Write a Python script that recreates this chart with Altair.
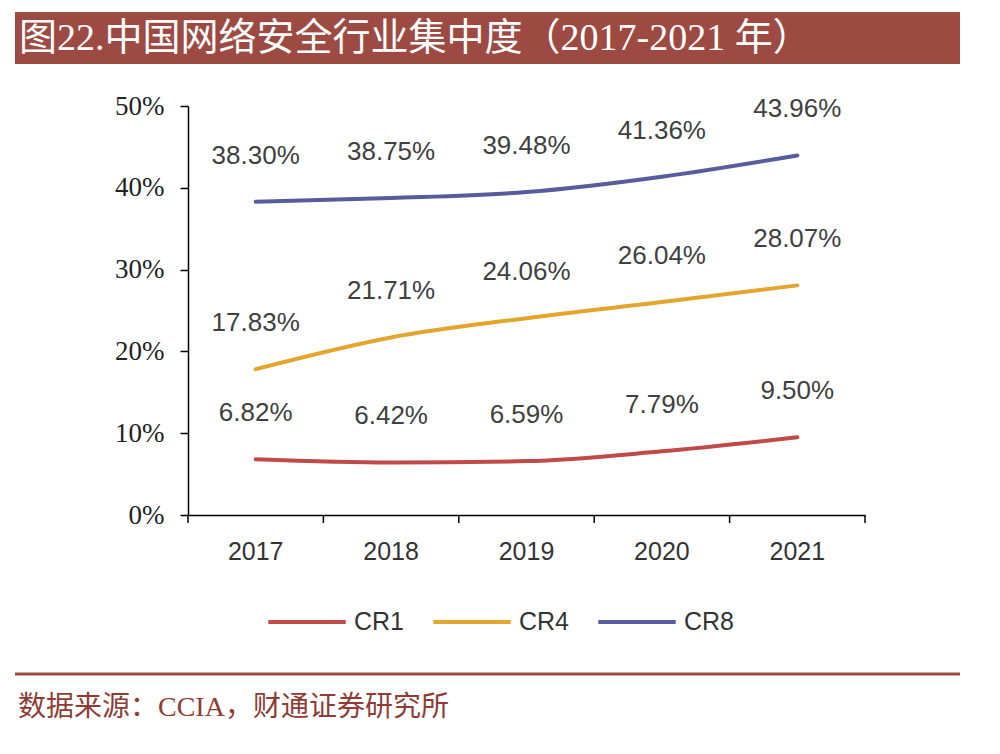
import altair as alt
import pandas as pd

TITLE = "图22.中国网络安全行业集中度（2017-2021 年）"
SOURCE = "数据来源：CCIA，财通证券研究所"

years = ["2017", "2018", "2019", "2020", "2021"]
series = ["CR1", "CR4", "CR8"]
cr1 = [6.82, 6.42, 6.59, 7.79, 9.50]
cr4 = [17.83, 21.71, 24.06, 26.04, 28.07]
cr8 = [38.30, 38.75, 39.48, 41.36, 43.96]
colors = ["#BE4B48", "#E2A62E", "#575C9C"]
y_ticks = [0, 0.1, 0.2, 0.3, 0.4, 0.5]

rows = []
for name, vals in zip(series, [cr1, cr4, cr8]):
    for yr, v in zip(years, vals):
        rows.append({"year": yr, "series": name, "value": v / 100})
df = pd.DataFrame(rows)
years_df = pd.DataFrame({"year": years})
one = pd.DataFrame({"a": [1]})

W, H = 677, 409
BAR = "#9C4A42"

x_scale = alt.Scale(domain=years, paddingInner=0, paddingOuter=0)
y_scale = alt.Scale(domain=[0, 0.5])

x_axis = alt.Axis(title=None, ticks=False, domainColor="#000", domainWidth=1.5,
                  labelFont="Liberation Sans", labelFontSize=25, labelColor="#333",
                  labelPadding=24, labelAngle=0, labelAlign="center", bandPosition=0.5)

lines = alt.Chart(df).mark_line(strokeWidth=4, interpolate="monotone", strokeCap="round").encode(
    x=alt.X("year:N", scale=x_scale, sort=years, axis=x_axis),
    y=alt.Y("value:Q", scale=y_scale,
            axis=alt.Axis(title=None, values=y_ticks, format=".0%", grid=False,
                          domainColor="#000", domainWidth=1.5, tickColor="#000", tickWidth=1.5,
                          tickSize=8, labelFont="Liberation Serif", labelFontSize=27,
                          labelColor="#222", labelPadding=16)),
    color=alt.Color("series:N", scale=alt.Scale(domain=series, range=colors),
                    legend=alt.Legend(title=None, orient="none", direction="horizontal",
                                      legendX=78, legendY=475, symbolType="stroke",
                                      symbolSize=6000, symbolStrokeWidth=4,
                                      labelFont="Liberation Sans", labelFontSize=25,
                                      labelColor="#333", labelOffset=6, columnPadding=20,
                                      padding=0)),
)

labels = alt.Chart(df).mark_text(dy=-46, fontSize=26, font="Liberation Sans", color="#404040",
                                 baseline="middle", align="center").encode(
    x=alt.X("year:N", scale=x_scale, sort=years, axis=x_axis),
    y=alt.Y("value:Q", scale=y_scale),
    text=alt.Text("value:Q", format=".2%"),
)

ticks_left = alt.Chart(years_df).mark_rule(color="#000", strokeWidth=1.5).encode(
    x=alt.X("year:N", scale=x_scale, sort=years, bandPosition=0, axis=x_axis),
    y=alt.value(H), y2=alt.value(H + 8),
)
ticks_right = alt.Chart(years_df).transform_filter(alt.datum.year == years[-1]).mark_rule(
    color="#000", strokeWidth=1.5).encode(
    x=alt.X("year:N", scale=x_scale, sort=years, bandPosition=1, axis=x_axis),
    y=alt.value(H), y2=alt.value(H + 8),
)

title_bar = alt.Chart(one).mark_rect(color=BAR).encode(
    x=alt.value(-173), x2=alt.value(772), y=alt.value(-94), y2=alt.value(-42))
title_text = alt.Chart(one).mark_text(align="left", baseline="middle", fontSize=38, color="white",
                                     font="Liberation Serif, Noto Sans CJK SC").encode(
    x=alt.value(-169), y=alt.value(-67), text=alt.value(TITLE))

bottom_rule = alt.Chart(one).mark_rule(color=BAR, strokeWidth=3).encode(
    x=alt.value(-173), x2=alt.value(772), y=alt.value(568))
source_text = alt.Chart(one).mark_text(align="left", baseline="middle", fontSize=28, color="#8E3C34",
                                      font="Liberation Serif, Noto Sans CJK SC").encode(
    x=alt.value(-170), y=alt.value(602), text=alt.value(SOURCE))

chart = alt.layer(title_bar, title_text, bottom_rule, source_text, ticks_left, ticks_right,
                  lines, labels).properties(
    width=W, height=H,
    autosize=alt.AutoSizeParams(type="none"),
    padding={"left": 180, "top": 98, "right": 120, "bottom": 222},
).configure(background="white", view=alt.ViewConfig(stroke=None))

chart.save("out.html", embed_options={"renderer": "svg", "actions": False})
